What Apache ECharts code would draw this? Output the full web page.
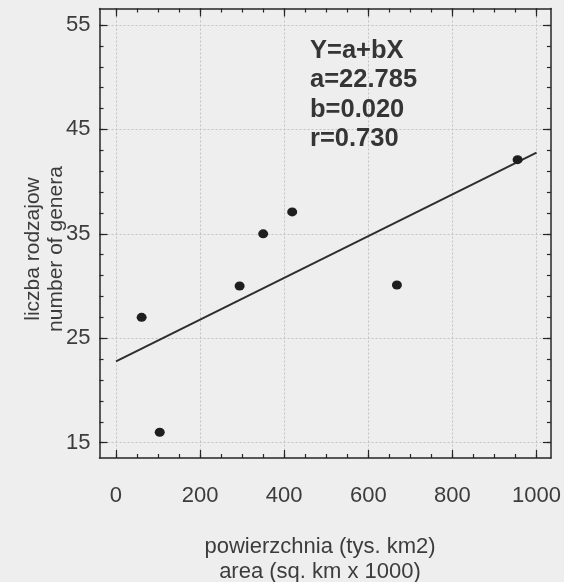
<!DOCTYPE html>
<html>
<head>
<meta charset="utf-8">
<script src="https://cdn.jsdelivr.net/npm/echarts@6/dist/echarts.min.js"></script>
<style>
html,body{margin:0;padding:0;background:#eeeeee;}
#chart{width:564px;height:582px;}
</style>
</head>
<body>
<div id="chart"></div>
<script>
// Observed points
var areaX = [61, 104, 294, 350, 419, 668, 955];
var generaY = [27.0, 16.0, 30.0, 35.0, 37.1, 30.1, 42.1];
// Regression line end points (Y = a + bX)
var fitX = [0, 1000];
var fitY = [22.785, 42.785];
// Tick labels
var xMajorTicks = [0, 200, 400, 600, 800, 1000];
var xMinorTicks = [0, 50, 100, 150, 200, 250, 300, 350, 400, 450, 500, 550, 600, 650, 700, 750, 800, 850, 900, 950, 1000];
var yMajorTicks = [15, 25, 35, 45, 55];
var yMinorTicks = [15, 17, 19, 21, 23, 25, 27, 29, 31, 33, 35, 37, 39, 41, 43, 45, 47, 49, 51, 53, 55];
// Texts
var equationLines = ['Y=a+bX', 'a=22.785', 'b=0.020', 'r=0.730'];
var xTitle = ['powierzchnia (tys. km2)', 'area (sq. km x 1000)'];
var yTitle = ['liczba rodzajow', 'number of genera'];

var X_MIN = -39.2, X_MAX = 1034.2, Y_MIN = 13.53, Y_MAX = 56.58;
var FRAME = '#262626', TXT = '#3c3c3c', GRID = '#c2c2c2';
var FONT = "'Liberation Sans', Arial, sans-serif";
function plain(v) { return String(v); }

function xAx(pos, vals, len, showLabel, showLine, showSplit) {
  return {
    type: 'value', position: pos, min: X_MIN, max: X_MAX, gridIndex: 0,
    axisLine: {show: showLine, onZero: false, lineStyle: {color: FRAME, width: 1.5}},
    axisTick: {show: true, inside: true, length: len, customValues: vals, lineStyle: {color: FRAME, width: 1.2}},
    axisLabel: {show: showLabel, customValues: vals, margin: 27, color: TXT, fontSize: 22, fontFamily: FONT, formatter: plain},
    splitLine: {show: showSplit, lineStyle: {color: GRID, type: [2, 2], width: 1}},
    minorTick: {show: false}, minorSplitLine: {show: false}
  };
}
function yAx(pos, vals, len, showLabel, showLine, showSplit) {
  return {
    type: 'value', position: pos, min: Y_MIN, max: Y_MAX, gridIndex: 0,
    axisLine: {show: showLine, onZero: false, lineStyle: {color: FRAME, width: 1.5}},
    axisTick: {show: true, inside: true, length: len, customValues: vals, lineStyle: {color: FRAME, width: 1.2}},
    axisLabel: {show: showLabel, customValues: vals, margin: 9, color: TXT, fontSize: 22, fontFamily: FONT, formatter: plain},
    splitLine: {show: showSplit, lineStyle: {color: GRID, type: [2, 2], width: 1}},
    minorTick: {show: false}, minorSplitLine: {show: false}
  };
}

var xAxes = [
  xAx('bottom', xMajorTicks, 8, true, true, true),
  xAx('bottom', xMinorTicks, 4, false, false, false),
  xAx('top', xMajorTicks, 8, false, true, false),
  xAx('top', xMinorTicks, 4, false, false, false)
];
var yAxes = [
  yAx('left', yMajorTicks, 8, true, true, true),
  yAx('left', yMinorTicks, 4, false, false, false),
  yAx('right', yMajorTicks, 8, false, true, false),
  yAx('right', yMinorTicks, 4, false, false, false)
];

var chart = echarts.init(document.getElementById('chart'), null, {renderer: 'canvas'});
chart.setOption({
  backgroundColor: '#eeeeee',
  animation: false,
  grid: {left: 99.5, right: 12.3, top: 8.5, bottom: 124, containLabel: false},
  xAxis: xAxes,
  yAxis: yAxes,
  series: [
    {
      type: 'line', xAxisIndex: 0, yAxisIndex: 0,
      data: fitX.map(function (x, i) { return [x, fitY[i]]; }),
      showSymbol: false, symbol: 'none',
      lineStyle: {color: '#2e2e2e', width: 2}, z: 3
    },
    {
      type: 'scatter', xAxisIndex: 0, yAxisIndex: 0,
      data: areaX.map(function (x, i) { return [x, generaY[i]]; }),
      symbol: 'circle', symbolSize: [10, 9],
      itemStyle: {color: '#1e1e1e', opacity: 1}, z: 4
    }
  ],
  graphic: [
    {
      type: 'text', left: 310, top: 36, z: 10,
      style: {
        text: equationLines.join('\n'),
        fill: '#353535', font: "bold 25.5px 'Liberation Sans', Arial, sans-serif",
        lineHeight: 29.5
      }
    },
    {
      type: 'text', x: 320, y: 559, z: 10,
      style: {
        text: xTitle.join('\n'), fill: TXT, font: "22px 'Liberation Sans', Arial, sans-serif",
        lineHeight: 25, align: 'center', verticalAlign: 'middle'
      }
    },
    {
      type: 'text', x: 45, y: 249, rotation: Math.PI / 2, z: 10,
      style: {
        text: yTitle.join('\n'), fill: TXT, font: "21px 'Liberation Sans', Arial, sans-serif",
        lineHeight: 23, align: 'center', verticalAlign: 'middle'
      }
    }
  ]
});
</script>
</body>
</html>
